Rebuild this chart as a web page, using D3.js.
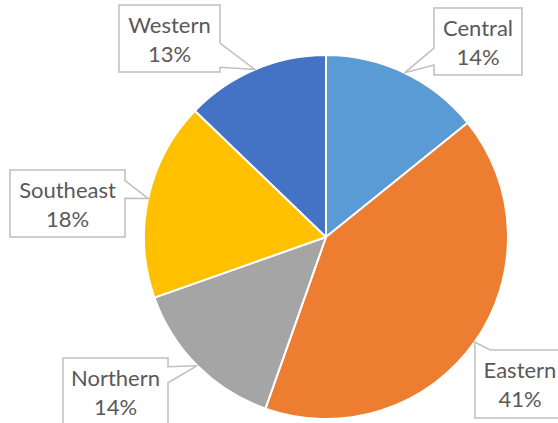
<!DOCTYPE html>
<html>
<head>
<meta charset="utf-8">
<script src="https://cdn.jsdelivr.net/npm/d3@7"></script>
<style>
  body { margin: 0; background: #fff; }
  .lbl { font-family: Lato, "Open Sans", sans-serif; font-size: 22px; fill: #595959; }
</style>
</head>
<body>
<div id="chart"></div>
<script>
// regions, clockwise from 12 o'clock
const regions = ["Central", "Eastern", "Northern", "Southeast", "Western"];
const shares = [14.2, 41.2, 14.2, 17.6, 12.8];
const colours = ["#5B9BD5", "#ED7D31", "#A5A5A5", "#FFC000", "#4472C4"];

// callout boxes (layout only): box, side the pointer leaves from, pointer base as fractions of that side
const callouts = {
  Central:   { x: 434, y: 8,   w: 88,  h: 67, side: "left",  a: 0.60, b: 0.85 },
  Eastern:   { x: 475, y: 350, w: 90,  h: 68, side: "top",   a: 0.00, b: 0.17 },
  Northern:  { x: 63,  y: 358, w: 105, h: 67, side: "right", a: 0.13, b: 0.37 },
  Southeast: { x: 10,  y: 170, w: 115, h: 67, side: "right", a: 0.16, b: 0.42 },
  Western:   { x: 119, y: 5,   w: 101, h: 67, side: "right", a: 0.57, b: 0.93 }
};

const width = 558, height = 423;
const cx = 326, cy = 237, radius = 182;

const svg = d3.select("#chart").append("svg")
  .attr("width", width)
  .attr("height", height);

const data = regions.map((r, i) => ({ region: r, value: shares[i], colour: colours[i] }));
const total = d3.sum(data, d => d.value);

const pie = d3.pie().sort(null).value(d => d.value);
const arcs = pie(data);

const arc = d3.arc().innerRadius(0).outerRadius(radius);
const edge = d3.arc().innerRadius(radius).outerRadius(radius);

const g = svg.append("g").attr("transform", `translate(${cx},${cy})`);

g.selectAll("path.slice")
  .data(arcs)
  .enter()
  .append("path")
  .attr("class", "slice")
  .attr("d", arc)
  .style("fill", d => d.data.colour)
  .style("stroke", "#fff")
  .style("stroke-width", 2)
  .style("stroke-linejoin", "round");

function calloutPath(c, tip) {
  const { x, y, w, h, a, b } = c;
  const TL = [x, y], TR = [x + w, y], BR = [x + w, y + h], BL = [x, y + h];
  let pts;
  if (c.side == "top") pts = [TL, [x + a * w, y], tip, [x + b * w, y], TR, BR, BL];
  else if (c.side == "right") pts = [TL, TR, [x + w, y + a * h], tip, [x + w, y + b * h], BR, BL];
  else if (c.side == "bottom") pts = [TL, TR, BR, [x + b * w, y + h], tip, [x + a * w, y + h], BL];
  else pts = [TL, TR, BR, BL, [x, y + b * h], tip, [x, y + a * h]];
  return "M" + pts.map(p => p.join(",")).join("L") + "Z";
}

const fmt = d3.format(".0%");

const labels = svg.selectAll("g.callout")
  .data(arcs)
  .enter()
  .append("g")
  .attr("class", "callout");

labels.append("path")
  .attr("d", d => {
    const c = edge.centroid(d);
    return calloutPath(callouts[d.data.region], [c[0] + cx, c[1] + cy]);
  })
  .style("fill", "#fff")
  .style("stroke", "#BFBFBF")
  .style("stroke-width", 1.5);

labels.append("text")
  .attr("class", "lbl")
  .attr("x", d => callouts[d.data.region].x + callouts[d.data.region].w / 2)
  .attr("y", d => callouts[d.data.region].y + 28)
  .style("text-anchor", "middle")
  .text(d => d.data.region);

labels.append("text")
  .attr("class", "lbl")
  .attr("x", d => callouts[d.data.region].x + callouts[d.data.region].w / 2)
  .attr("y", d => callouts[d.data.region].y + 57)
  .style("text-anchor", "middle")
  .text(d => fmt(d.data.value / total));
</script>
</body>
</html>
